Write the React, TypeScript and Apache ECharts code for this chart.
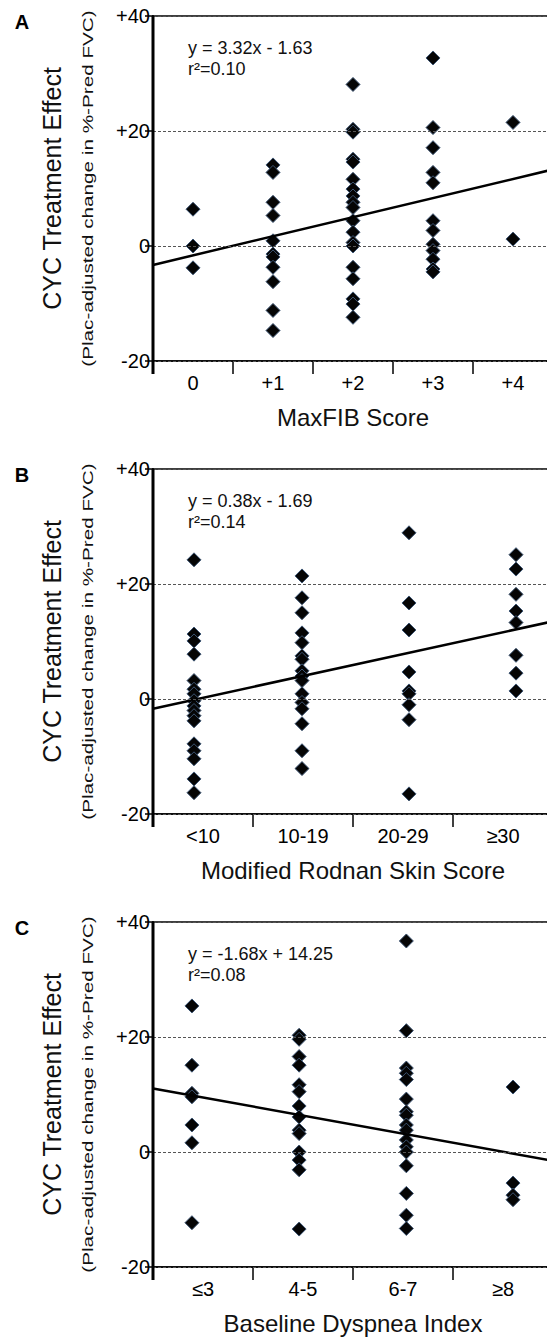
import React, { useEffect, useRef } from "react";
import * as echarts from "echarts";

// ---- data ----
const yMin = -20;
const yMax = 40;
const yStep = 20;

const panelLetters = ["A", "B", "C"];
const xTitles = ["MaxFIB Score", "Modified Rodnan Skin Score", "Baseline Dyspnea Index"];
const equationTexts = ["y = 3.32x - 1.63", "y = 0.38x - 1.69", "y = -1.68x + 14.25"];
const r2Texts = ["r²=0.10", "r²=0.14", "r²=0.08"];
const slopes = [3.32, 0.38, -1.68];
const intercepts = [-1.63, -1.69, 14.25];
const xRanges = [
  [-0.5, 4.5],
  [0, 40],
  [1.9, 9.4],
];

const panelALabels = ["0", "+1", "+2", "+3", "+4"];
const panelAGroupX = [0, 1, 2, 3, 4];
const panelAValues = [
  [6.4, 0, -3.8],
  [14.1, 12.8, 7.6, 5.3, 0.9, -1.4, -1.9, -3.7, -6.2, -11.2, -14.7],
  [28.1, 20.3, 19.8, 15.1, 14.6, 11.6, 9.9, 8.7, 7.6, 6.7, 4.4, 2.4, 0.6, 0, -3.7, -5.7, -9.2, -10.1, -12.4],
  [32.7, 20.6, 17.1, 12.8, 11.0, 4.4, 2.7, 0.3, -0.8, -2.3, -4.0, -4.5],
  [21.5, 1.2],
];

const panelBLabels = ["<10", "10-19", "20-29", "≥30"];
const panelBGroupX = [4.1, 14.9, 25.6, 36.3];
const panelBValues = [
  [24.2, 11.3, 10.1, 7.8, 3.2, 1.7, 0.9, -0.3, -1.2, -2.0, -2.9, -3.8, -7.8, -9.0, -10.4, -13.9, -16.3],
  [21.4, 17.6, 15.0, 11.5, 9.8, 7.5, 6.9, 4.9, 4.0, 3.2, 0.9, -0.6, -1.7, -4.3, -9.0, -12.1],
  [28.9, 16.7, 12.0, 4.7, 1.4, 0.9, -1.0, -3.6, -16.5],
  [25.1, 22.6, 18.2, 15.3, 13.3, 7.6, 4.5, 1.4],
];

const panelCLabels = ["≤3", "4-5", "6-7", "≥8"];
const panelCGroupX = [2.63, 4.64, 6.65, 8.65];
const panelCValues = [
  [25.4, 15.1, 10.2, 9.6, 4.7, 1.6, -12.3],
  [20.3, 19.6, 16.6, 15.1, 11.7, 10.5, 8.0, 6.1, 3.8, 3.2, 0, -1.4, -3.1, -13.4],
  [36.7, 21.1, 14.6, 13.7, 12.6, 9.2, 7.0, 6.4, 4.7, 3.8, 2.1, 0.9, 0, -2.4, -7.2, -11.0, -13.3],
  [11.3, -5.4, -7.5, -8.3],
];

const categoryLabels = [panelALabels, panelBLabels, panelCLabels];
const groupXs = [panelAGroupX, panelBGroupX, panelCGroupX];
const groupValues = [panelAValues, panelBValues, panelCValues];

// ---- layout ----
const gridTops = [16, 469, 922];
const gridHeight = 345;
const gridLeft = 153;
const gridWidth = 400;
const FONT = 'Arial, "Liberation Sans", Helvetica, sans-serif';

function buildOption() {
  const grids: any[] = [];
  const xAxes: any[] = [];
  const yAxes: any[] = [];
  const series: any[] = [];
  const graphics: any[] = [];

  for (let i = 0; i < 3; i++) {
    grids.push({
      left: gridLeft,
      top: gridTops[i],
      width: gridWidth,
      height: gridHeight,
      show: true,
      borderColor: "#000",
      borderWidth: 1.5,
      backgroundColor: "transparent",
    });
    xAxes.push({
      type: "category",
      gridIndex: i,
      position: "bottom",
      data: categoryLabels[i],
      boundaryGap: true,
      axisLine: { show: true, onZero: false, lineStyle: { color: "#000", width: 1.5 } },
      axisTick: { show: true, length: 13, lineStyle: { color: "#000", width: 1.5 } },
      axisLabel: { color: "#000", fontSize: 20, fontFamily: FONT, margin: 12 },
      splitLine: { show: false },
      name: xTitles[i],
      nameLocation: "middle",
      nameGap: 44,
      nameTextStyle: { color: "#111", fontSize: 24, fontFamily: FONT },
      z: 5,
    });
    xAxes.push({
      type: "value",
      gridIndex: i,
      position: "top",
      min: xRanges[i][0],
      max: xRanges[i][1],
      axisLine: { show: false, onZero: false },
      axisTick: { show: false },
      axisLabel: { show: false },
      splitLine: { show: false },
    });
    yAxes.push({
      type: "value",
      gridIndex: i,
      position: "left",
      min: yMin,
      max: yMax,
      interval: yStep,
      axisLine: { show: true, onZero: false, lineStyle: { color: "#000", width: 2 } },
      axisTick: { show: true, length: 8, lineStyle: { color: "#000", width: 1.5 } },
      axisLabel: {
        color: "#000",
        fontSize: 20,
        fontFamily: FONT,
        margin: 3,
        formatter: (v: number) => (v > 0 ? "+" + v : String(v)),
      },
      splitLine: { show: true, lineStyle: { color: "#555", width: 1, type: [3, 2] } },
      z: 6,
    });

    const pts: number[][] = [];
    groupValues[i].forEach((vals, g) => {
      vals.forEach((v) => pts.push([groupXs[i][g], v]));
    });
    series.push({
      type: "scatter",
      xAxisIndex: i * 2 + 1,
      yAxisIndex: i,
      data: pts,
      symbol: "diamond",
      symbolSize: 14,
      itemStyle: { color: "#050505", borderColor: "#3d5573", borderWidth: 1, opacity: 1 },
      z: 3,
    });
    const x0 = xRanges[i][0];
    const x1 = xRanges[i][1];
    series.push({
      type: "line",
      xAxisIndex: i * 2 + 1,
      yAxisIndex: i,
      data: [
        [x0, slopes[i] * x0 + intercepts[i]],
        [x1, slopes[i] * x1 + intercepts[i]],
      ],
      showSymbol: false,
      symbol: "none",
      lineStyle: { color: "#000", width: 2.5 },
      z: 4,
    });

    const top = gridTops[i];
    const mid = top + gridHeight / 2;
    graphics.push(
      {
        // left frame edge of the plot, drawn as a thin filled rect
        type: "rect",
        z: 100,
        shape: { x: gridLeft - 1.5, y: top, width: 3, height: gridHeight + 13 },
        style: { fill: "#000" },
      },
      {
        type: "text",
        x: 22,
        y: top + 6,
        style: {
          text: panelLetters[i],
          fontSize: 20,
          fontWeight: "bold",
          fontFamily: FONT,
          fill: "#000",
          textAlign: "center",
          textVerticalAlign: "middle",
        },
      },
      {
        type: "text",
        x: 52,
        y: mid,
        rotation: Math.PI / 2,
        style: {
          text: "CYC Treatment Effect",
          fontSize: 25,
          fontFamily: FONT,
          fill: "#111",
          textAlign: "center",
          textVerticalAlign: "middle",
        },
      },
      {
        type: "text",
        x: 88,
        y: mid,
        rotation: Math.PI / 2,
        scaleX: 1.38,
        style: {
          text: "(Plac-adjusted change in %-Pred FVC)",
          fontSize: 15,
          fontFamily: FONT,
          fill: "#111",
          textAlign: "center",
          textVerticalAlign: "middle",
        },
      },
      {
        type: "text",
        x: 188,
        y: top + 32,
        style: {
          text: equationTexts[i],
          fontSize: 18,
          fontFamily: FONT,
          fill: "#111",
          textAlign: "left",
          textVerticalAlign: "middle",
        },
      },
      {
        type: "text",
        x: 188,
        y: top + 53,
        style: {
          text: r2Texts[i],
          fontSize: 18,
          fontFamily: FONT,
          fill: "#111",
          textAlign: "left",
          textVerticalAlign: "middle",
        },
      }
    );
  }

  return {
    animation: false,
    backgroundColor: "#fff",
    grid: grids,
    xAxis: xAxes,
    yAxis: yAxes,
    series,
    graphic: graphics,
  };
}

export default function App() {
  const ref = useRef<HTMLDivElement>(null);
  useEffect(() => {
    document.body.style.margin = "0";
    if (!ref.current) return;
    const chart = echarts.init(ref.current, null, { renderer: "svg" });
    chart.setOption(buildOption() as any);
    return () => chart.dispose();
  }, []);
  return (
    <div style={{ width: 547, height: 1338, overflow: "hidden", background: "#fff" }}>
      <div ref={ref} style={{ width: 560, height: 1338 }} />
    </div>
  );
}
